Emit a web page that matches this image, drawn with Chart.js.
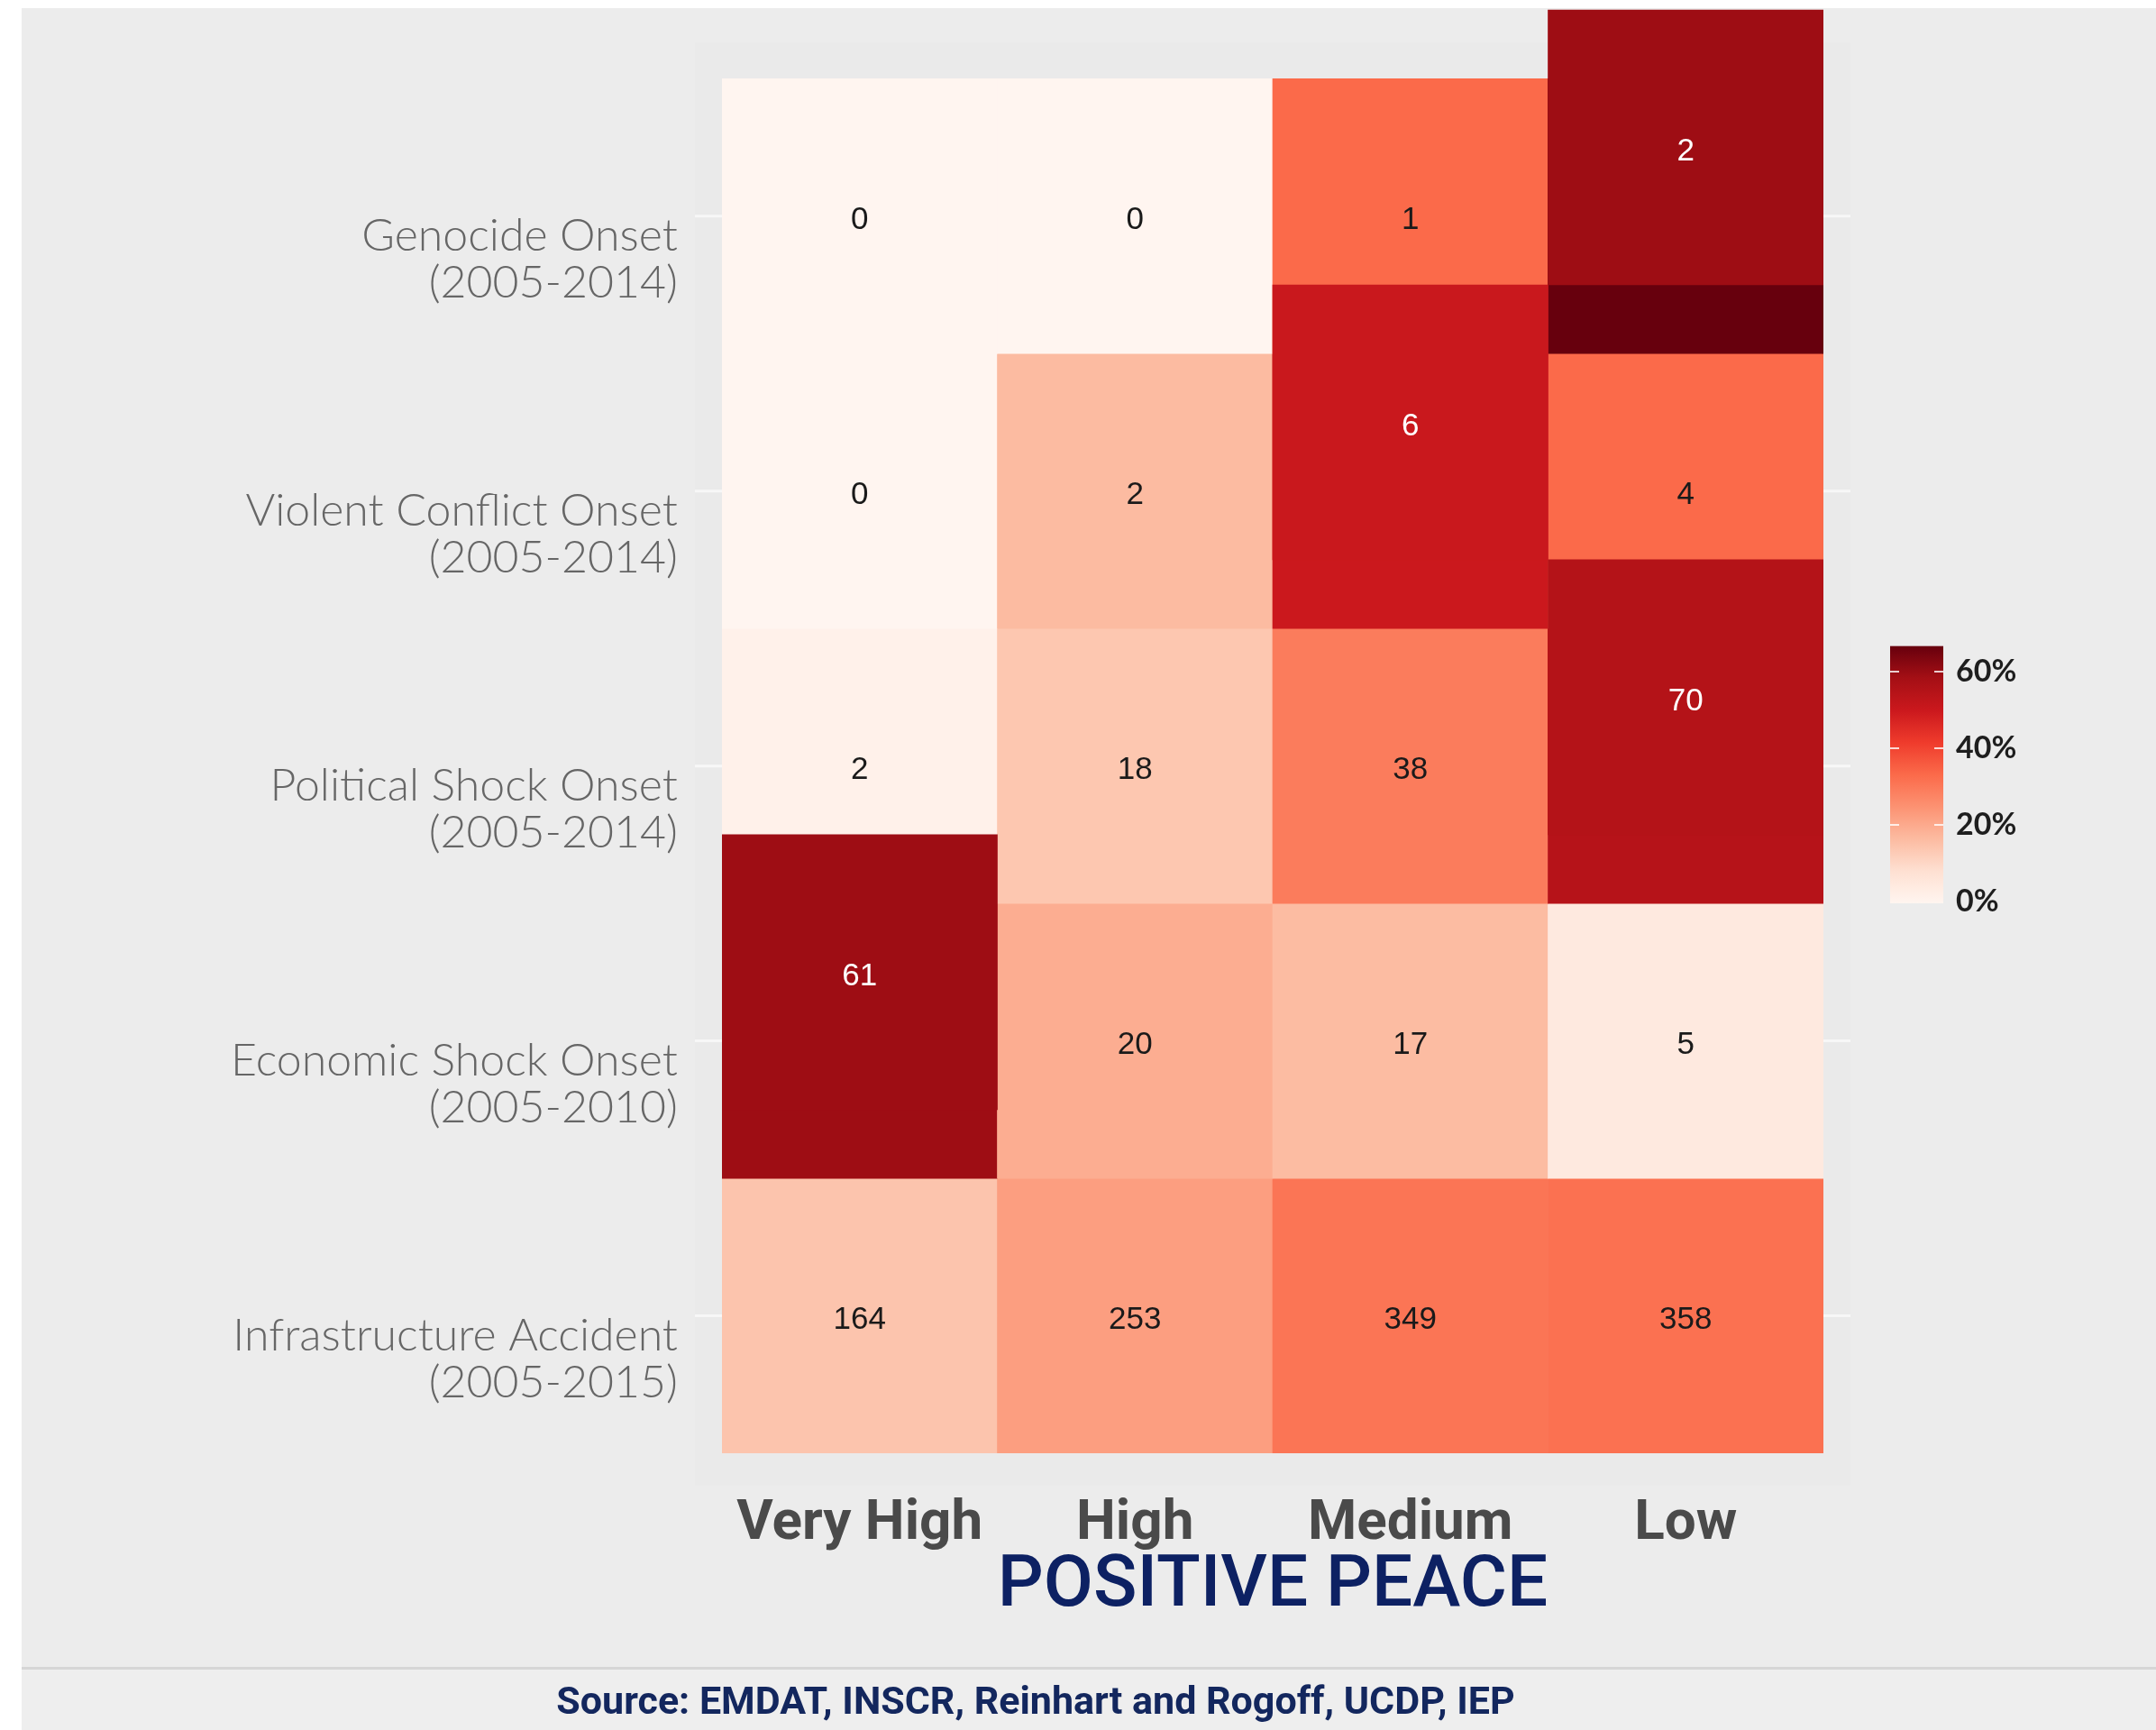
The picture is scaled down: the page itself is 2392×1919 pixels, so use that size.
<!DOCTYPE html>
<html>
<head>
<meta charset="utf-8">
<title>Positive Peace heatmap</title>
<script src="https://cdn.jsdelivr.net/npm/chart.js@4.4.1/dist/chart.umd.min.js"></script>
<style>
  body { margin: 0; background: #ffffff; }
  canvas { display: block; }
</style>
</head>
<body>
<canvas id="chart" width="2392" height="1919"></canvas>
<script>
// Categories
const columns = ['Very High', 'High', 'Medium', 'Low'];
const rowNames = ['Genocide Onset', 'Violent Conflict Onset', 'Political Shock Onset', 'Economic Shock Onset', 'Infrastructure Accident'];
const rowPeriods = ['(2005-2014)', '(2005-2014)', '(2005-2014)', '(2005-2010)', '(2005-2015)'];

// Counts per Positive Peace level
const genocide = [0, 0, 1, 2];
const violentConflict = [0, 2, 6, 4];
const politicalShock = [2, 18, 38, 70];
const economicShock = [61, 20, 17, 5];
const infrastructure = [164, 253, 349, 358];
const rows = [genocide, violentConflict, politicalShock, economicShock, infrastructure];

// Highlighted (raised) cell in each row, by column index
const highlightedColumn = [3, 2, 3, 0, null];

// Legend tick labels (percent of row total)
const legendTicks = [0, 20, 40, 60];

// Styles
const reds = ['#fff5f0', '#fee0d2', '#fcbba1', '#fc9272', '#fb6a4a', '#ef3b2c', '#cb181d', '#a50f15', '#67000d'];
const highlightColours = ['#9e0d14', '#c9181d', '#b41318', '#9e0d14'];
const highlightShift = 0.25;

function hexToRgb(h) {
    return [parseInt(h.slice(1, 3), 16), parseInt(h.slice(3, 5), 16), parseInt(h.slice(5, 7), 16)];
}

function fill(t) {
    t = Math.max(0, Math.min(1, t));
    const pos = t * (reds.length - 1);
    const i = Math.min(Math.floor(pos), reds.length - 2);
    const f = pos - i;
    const a = hexToRgb(reds[i]);
    const b = hexToRgb(reds[i + 1]);
    const c = a.map((v, k) => Math.round(v + (b[k] - v) * f));
    return `rgb(${c[0]},${c[1]},${c[2]})`;
}

// Share of each cell in its row total
const shares = rows.map(r => {
    const total = r.reduce((s, v) => s + v, 0);
    return r.map(v => v / total);
});
const maxShare = Math.max(...shares.flat());

// Build datasets: one per row, plus the raised highlight cells
const datasets = [];
rows.forEach((values, i) => {
    datasets.push({
        label: rowNames[i],
        data: values.map(() => [i, i + 1]),
        counts: values,
        kind: 'cell',
        row: i,
        backgroundColor: shares[i].map(s => fill(s / maxShare)),
        order: 1
    });
});
highlightedColumn.forEach((c, i) => {
    if (c === null) return;
    datasets.push({
        label: rowNames[i] + ' (highlight)',
        data: columns.map((_, j) => j === c ? [i - highlightShift, i + 1 - highlightShift] : null),
        counts: rows[i],
        kind: 'highlight',
        row: i,
        backgroundColor: highlightColours[i],
        order: 0
    });
});

// Page background, panel and separator
const backdrop = {
    id: 'backdrop',
    beforeDraw(chart) {
        const ctx = chart.ctx;
        ctx.save();
        ctx.fillStyle = '#ececec';
        ctx.fillRect(24, 9, chart.width - 24, chart.height - 9);
        ctx.fillStyle = '#eeeeee';
        ctx.fillRect(24, 1852, chart.width - 24, chart.height - 1852);
        ctx.fillStyle = '#d6d6d6';
        ctx.fillRect(24, 1849, chart.width - 24, 3);
        ctx.restore();
    },
    beforeDatasetsDraw(chart) {
        const ctx = chart.ctx;
        const area = chart.chartArea;
        const y = chart.scales.y;
        const top = y.getPixelForValue(0) - 40;
        const bottom = y.getPixelForValue(rows.length) + 36;
        ctx.save();
        ctx.fillStyle = '#eaeaea';
        ctx.fillRect(area.left - 30, top, area.right - area.left + 60, bottom - top);
        ctx.strokeStyle = '#f7f7f7';
        ctx.lineWidth = 3;
        rows.forEach((_, i) => {
            const py = y.getPixelForValue(i + 0.5);
            ctx.beginPath();
            ctx.moveTo(area.left - 30, py);
            ctx.lineTo(area.right + 30, py);
            ctx.stroke();
        });
        ctx.restore();
    }
};

// Count labels inside cells
const cellLabels = {
    id: 'cellLabels',
    afterDatasetsDraw(chart) {
        const ctx = chart.ctx;
        ctx.save();
        ctx.font = '35px "Liberation Sans", Arial, sans-serif';
        ctx.textAlign = 'center';
        ctx.textBaseline = 'middle';
        chart.data.datasets.forEach((ds, di) => {
            const meta = chart.getDatasetMeta(di);
            meta.data.forEach((bar, j) => {
                if (ds.data[j] === null) return;
                if (ds.kind === 'cell' && highlightedColumn[ds.row] === j) return;
                const cy = (bar.y + bar.base) / 2 + 5;
                ctx.fillStyle = ds.kind === 'highlight' ? '#ffffff' : '#1a1a1a';
                ctx.fillText(String(ds.counts[j]), bar.x, cy);
            });
        });
        ctx.restore();
    }
};

// Colour bar legend and source line
const colourBar = {
    id: 'colourBar',
    afterDraw(chart) {
        const ctx = chart.ctx;
        const x0 = 2097, w = 59;
        const yOf = p => 1000 - p / 20 * 85;
        const top = yOf(maxShare * 100);
        const bottom = yOf(0) + 2;
        ctx.save();
        const g = ctx.createLinearGradient(0, bottom, 0, top);
        for (let k = 0; k <= 16; k++) g.addColorStop(k / 16, fill(k / 16));
        ctx.fillStyle = g;
        ctx.fillRect(x0, top, w, bottom - top);
        ctx.strokeStyle = 'rgba(255,255,255,0.8)';
        ctx.lineWidth = 2;
        legendTicks.forEach(p => {
            const py = yOf(p);
            if (p > 0) {
                ctx.beginPath();
                ctx.moveTo(x0, py); ctx.lineTo(x0 + 10, py);
                ctx.moveTo(x0 + w - 10, py); ctx.lineTo(x0 + w, py);
                ctx.stroke();
            }
        });
        ctx.fillStyle = '#1e1e1e';
        ctx.font = 'bold 34px Lato, sans-serif';
        ctx.textAlign = 'left';
        ctx.textBaseline = 'middle';
        legendTicks.forEach(p => ctx.fillText(p + '%', 2170, yOf(p)));

        ctx.fillStyle = '#13275e';
        ctx.font = 'bold 43px Roboto, sans-serif';
        ctx.textAlign = 'center';
        ctx.fillText('Source: EMDAT, INSCR, Reinhart and Rogoff, UCDP, IEP', 1149, 1890);
        ctx.restore();
    }
};

new Chart(document.getElementById('chart'), {
    type: 'bar',
    data: { labels: columns, datasets: datasets },
    options: {
        responsive: false,
        animation: false,
        devicePixelRatio: 1,
        layout: { padding: { top: 8, right: 369, bottom: 107, left: 0 } },
        datasets: {
            bar: {
                grouped: false,
                barPercentage: 1,
                categoryPercentage: 1,
                borderWidth: 0
            }
        },
        plugins: {
            legend: { display: false },
            tooltip: { enabled: false }
        },
        scales: {
            x: {
                grid: { display: false, drawTicks: false },
                border: { display: false },
                afterFit: scale => {
                    scale.height = 200;
                    scale.paddingLeft = 0;
                    scale.paddingRight = 0;
                },
                ticks: {
                    padding: 42,
                    color: '#4a4a4a',
                    font: { family: 'Roboto', size: 62, weight: 'bold', lineHeight: 1.2 }
                },
                title: {
                    display: true,
                    text: 'POSITIVE PEACE',
                    color: '#0d2163',
                    padding: { top: 0, bottom: 11 },
                    font: { family: 'Roboto', size: 80, weight: 500, lineHeight: 1 }
                }
            },
            y: {
                reverse: true,
                min: -highlightShift - 0.01,
                max: rows.length,
                grid: { display: false, drawTicks: false },
                border: { display: false },
                afterFit: scale => {
                    scale.width = 801;
                    scale.paddingTop = 0;
                    scale.paddingBottom = 0;
                },
                afterBuildTicks: scale => {
                    scale.ticks = rows.map((_, i) => ({ value: i + 0.5 }));
                },
                ticks: {
                    padding: 49,
                    labelOffset: 48,
                    color: '#666666',
                    autoSkip: false,
                    font: { family: 'Lato', size: 50, weight: 300, lineHeight: 1.04 },
                    callback: (value, index) => [rowNames[index], rowPeriods[index]]
                }
            }
        }
    },
    plugins: [backdrop, cellLabels, colourBar]
});
</script>
</body>
</html>
